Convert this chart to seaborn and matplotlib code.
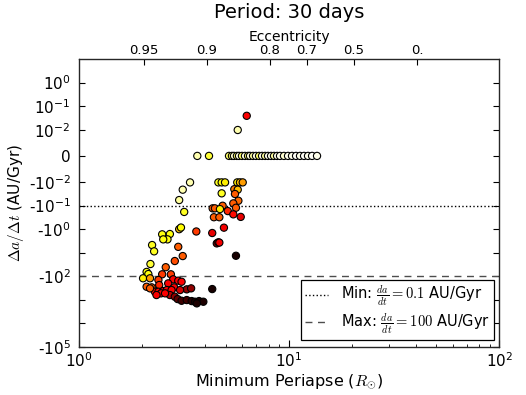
import numpy as np
import pandas as pd
import seaborn as sns

import matplotlib.pyplot as plt
from matplotlib.lines import Line2D

# minimum periapse (R_sun), da/dt (AU/Gyr) and colour value (hot colormap)
periapse = [
    6.29, 5.70, 3.66, 4.16,
    5.18, 5.35, 5.47, 5.65, 5.78, 5.97, 6.17, 6.38, 6.52, 6.74, 6.96, 7.20, 7.44, 7.69,
    7.94, 8.21, 8.48, 8.77, 9.06, 9.46, 9.89, 10.33, 10.80, 11.28, 11.79, 12.31, 12.87, 13.59,
    3.38, 4.61, 4.78, 4.96, 5.67, 5.84, 6.02,
    3.12, 5.49, 5.70, 4.78, 5.53, 3.00, 5.74, 5.43,
    4.83, 5.59, 4.33, 4.44, 4.69, 3.17, 5.11, 5.43, 5.89, 4.39, 4.66,
    3.00, 3.06, 4.90, 3.62, 4.31, 2.49, 2.71, 2.64, 2.52, 4.53, 4.61, 4.66,
    2.23, 2.28, 2.97, 3.12, 2.86, 2.59, 2.19, 2.10, 2.14, 2.02, 2.18, 2.49, 2.74,
    2.10, 2.22, 2.39, 2.41, 2.81, 2.97, 3.08, 2.66, 2.84, 3.26, 3.42, 2.30, 2.39,
    2.52, 2.46, 2.62, 2.76, 3.03, 2.71, 2.86, 2.95, 3.08, 3.26, 3.44, 3.57, 3.73,
    3.91, 3.64, 2.34, 2.18, 2.57, 5.59, 4.31,
]
dadt = [
    0.039, 0.0099, 0, 0,
    0, 0, 0, 0, 0, 0, 0, 0, 0, 0, 0, 0, 0, 0,
    0, 0, 0, 0, 0, 0, 0, 0, 0, 0, 0, 0, 0, 0,
    -0.0103, -0.0103, -0.0103, -0.0103, -0.0103, -0.0103, -0.0103,
    -0.021, -0.020, -0.021, -0.030, -0.032, -0.058, -0.062, -0.080,
    -0.101, -0.123, -0.13, -0.13, -0.14, -0.185, -0.17, -0.234, -0.30, -0.31, -0.31,
    -1.0, -0.85, -0.86, -1.25, -1.45, -1.65, -1.6, -2.7, -2.7, -4.0, -3.6, -3.7,
    -4.7, -8.7, -5.6, -13.8, -22.4, -41, -30, -65, -80, -121, -121, -82, -82,
    -277, -294, -143, -234, -134, -153, -170, -199, -294, -357, -324, -451, -451,
    -421, -527, -382, -382, -382, -622, -734, -922, -1089, -1016, -1122, -1198, -1122,
    -1198, -1405, -622, -324, -527, -13.4, -347,
]
shade = [
    0.36, 0.92, 0.92, 0.80,
    0.85, 0.85, 0.95, 0.85, 0.97, 0.85, 0.97, 0.85, 0.97, 0.90, 0.97, 0.85, 0.98, 0.90,
    0.98, 0.98, 0.90, 0.98, 0.98, 0.95, 0.98, 0.98, 0.99, 0.98, 0.99, 0.98, 0.99, 0.98,
    0.92, 0.78, 0.75, 0.72, 0.72, 0.65, 0.60,
    0.92, 0.55, 0.65, 0.78, 0.50, 0.90, 0.52, 0.50,
    0.50, 0.50, 0.50, 0.50, 0.72, 0.78, 0.42, 0.38, 0.33, 0.50, 0.50,
    0.66, 0.74, 0.35, 0.45, 0.33, 0.76, 0.76, 0.76, 0.76, 0.20, 0.30, 0.35,
    0.78, 0.78, 0.50, 0.50, 0.48, 0.50, 0.80, 0.76, 0.76, 0.72, 0.60, 0.45, 0.45,
    0.50, 0.50, 0.45, 0.42, 0.36, 0.36, 0.36, 0.36, 0.36, 0.20, 0.20, 0.38, 0.38,
    0.36, 0.36, 0.36, 0.36, 0.30, 0.25, 0.20, 0.12, 0.08, 0.08, 0.04, 0.03, 0.03,
    0.03, 0.03, 0.36, 0.50, 0.36, 0.02, 0.02,
]

# limits on da/dt
min_rate = 0.1
max_rate = 100

# eccentricity axis (top)
ecc_ticks = [0.95, 0.9, 0.8, 0.7, 0.5, 0.0]
ecc_labels = ['0.95', '0.9', '0.8', '0.7', '0.5', '0.']
semi_major = 40.6  # R_sun for a 30 day period

y_ticks = [1e0, 1e-1, 1e-2, 0, -1e-2, -1e-1, -1e0, -1e1, -1e2, -1e3, -1e4, -1e5]
y_labels = [r'$\mathdefault{10^{0}}$', r'$\mathdefault{10^{-1}}$', r'$\mathdefault{10^{-2}}$',
            '0', r'-$\mathdefault{10^{-2}}$', r'-$\mathdefault{10^{-1}}$',
            r'-$\mathdefault{10^{0}}$', '', r'-$\mathdefault{10^{2}}$', '', '',
            r'-$\mathdefault{10^{5}}$']

sns.set_style('ticks', {'xtick.direction': 'in', 'ytick.direction': 'in'})
plt.rcParams['font.family'] = ['DejaVu Sans']
plt.rcParams['mathtext.fontset'] = 'cm'
plt.rcParams['axes.unicode_minus'] = False
plt.rcParams['text.color'] = 'black'
plt.rcParams['axes.labelcolor'] = 'black'

df = pd.DataFrame({'periapse': periapse, 'dadt': dadt, 'shade': shade})

fig = plt.figure(figsize=(5.26, 3.95), dpi=100)
ax = fig.add_axes([0.150, 0.1215, 0.799, 0.729])

ax.axhline(-min_rate, ls=':', color='k', lw=1)
ax.axhline(-max_rate, ls='--', color='0.3', lw=1, dashes=(5, 4))

sns.scatterplot(
    data=df,
    x='periapse',
    y='dadt',
    hue='shade',
    palette='hot',
    hue_norm=(0, 1),
    edgecolor='black',
    linewidth=0.8,
    s=27,
    legend=False,
    ax=ax,
    zorder=3
)

ax.set_xscale('log')
ax.set_yscale('symlog', linthresh=0.01, linscale=1)
ax.set_xlim(1, 100)
ax.set_ylim(-1e5, 10)
ax.set_yticks(y_ticks)
ax.set_yticklabels(y_labels)
ax.yaxis.set_minor_locator(plt.NullLocator())
ax.tick_params(axis='both', which='both', direction='in', labelsize=11,
               right=True, colors='black')
ax.tick_params(axis='y', length=4, pad=6)
ax.tick_params(axis='x', which='major', length=5, pad=3)
ax.tick_params(axis='x', which='minor', length=2.5)
ax.set_xlabel(r'Minimum Periapse ($R_{\odot}$)', fontsize=11.5, labelpad=2)
ax.set_ylabel(r'$\Delta a/\Delta t$ (AU/Gyr)', fontsize=11, labelpad=2)
for sp in ax.spines.values():
    sp.set_color('black')
    sp.set_linewidth(0.9)

ax2 = ax.twiny()
ax2.set_xscale('log')
ax2.set_xlim(ax.get_xlim())
ax2.set_xticks([semi_major * (1 - e) for e in ecc_ticks])
ax2.set_xticklabels(ecc_labels)
ax2.xaxis.set_minor_locator(plt.NullLocator())
ax2.tick_params(axis='x', direction='in', labelsize=9.5, length=4, pad=1.5,
                colors='black')
ax2.set_xlabel('Eccentricity', fontsize=10, labelpad=2)
ax2.set_title('Period: 30 days', fontsize=14, pad=9, color='black')

handles = [
    Line2D([], [], ls=':', color='k', lw=1),
    Line2D([], [], ls='--', color='0.3', lw=1, dashes=(5, 4)),
]
labels = [r'Min: $\frac{da}{dt}=$' + r'$0.1$ AU/Gyr',
          r'Max: $\frac{da}{dt}=$' + r'$100$ AU/Gyr']
leg = ax.legend(handles, labels, loc='lower right', fontsize=10.5, fancybox=False,
                framealpha=1, edgecolor='black', handlelength=1.6,
                borderpad=0.25, labelspacing=0.22, handletextpad=0.9,
                borderaxespad=0, bbox_to_anchor=(0.988, 0.025))
leg.get_frame().set_linewidth(0.9)

plt.savefig('out.png', dpi=100)
